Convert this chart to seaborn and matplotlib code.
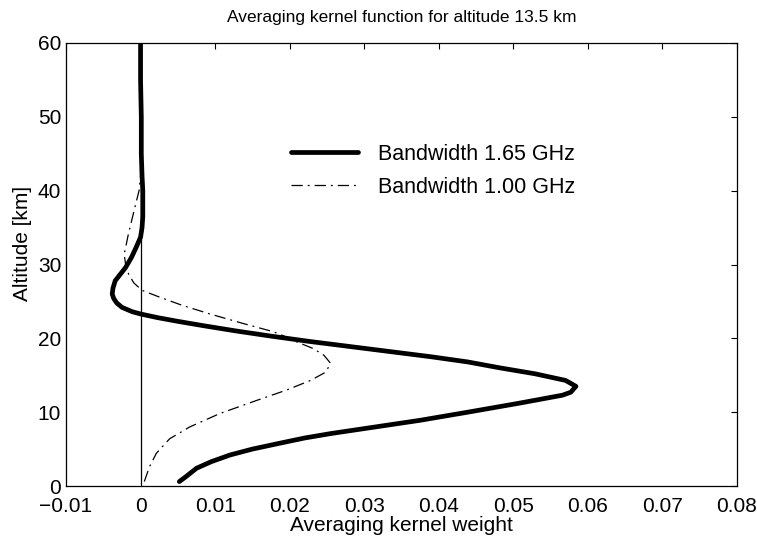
import numpy as np
import pandas as pd
import matplotlib
matplotlib.use("Agg")
import matplotlib.pyplot as plt
import seaborn as sns

# ---- data ----
alt_165 = [0.6, 1.2, 2.4, 3.3, 4.2, 5.0, 5.8, 6.5, 7.1, 8.0, 8.9, 10.0, 11.2, 12.3, 12.7,
           13.5, 14.3, 15.2, 16.0, 16.8, 17.5, 18.2, 18.9, 19.6, 20.3, 21.0, 21.7, 22.3,
           22.8, 23.3, 23.6, 24.2, 24.8, 25.4, 26.0, 26.8, 27.8, 28.7, 29.6, 31.0, 32.3,
           33.7, 35.0, 36.5, 38.0, 40.0, 42.0, 45.0, 50.0, 55.0, 60.0]
w_165 = [0.0052, 0.0060, 0.0075, 0.0095, 0.0120, 0.0150, 0.0187, 0.0220, 0.0255, 0.0315,
         0.0375, 0.0439, 0.0507, 0.0566, 0.0577, 0.0584, 0.0570, 0.0529, 0.0482, 0.0439,
         0.0390, 0.0335, 0.0280, 0.0225, 0.0175, 0.0128, 0.0085, 0.0050, 0.0023, 0.0000,
         -0.0011, -0.0025, -0.0032, -0.0036, -0.0038, -0.0037, -0.0034, -0.0027, -0.0020,
         -0.0012, -0.0006, 0.0000, 0.0002, 0.0003, 0.0003, 0.0003, 0.0002, 0.0001, 0.0001,
         0.0000, 0.0000]

alt_100 = [0.6, 2.6, 4.4, 6.4, 8.0, 9.8, 11.6, 13.0, 14.3, 15.4, 16.6, 17.7, 18.6, 19.5,
           20.2, 20.9, 22.0, 23.3, 24.5, 25.6, 26.5, 27.5, 28.7, 30.0, 31.4, 32.3, 33.8,
           35.5, 38.2, 40.0, 42.0, 45.0, 50.0, 55.0, 60.0]
w_100 = [0.0005, 0.0012, 0.0021, 0.0039, 0.0066, 0.0106, 0.0156, 0.0196, 0.0228, 0.0248,
         0.0255, 0.0246, 0.0232, 0.0210, 0.0195, 0.0178, 0.0138, 0.0093, 0.0055, 0.0025,
         0.0002, -0.0009, -0.0016, -0.0020, -0.0022, -0.0020, -0.0017, -0.0013, -0.00065,
         -0.0002, 0.0, 0.0, 0.0, 0.0, 0.0]

labels = ["Bandwidth 1.65 GHz", "Bandwidth 1.00 GHz"]
x_ticks = [-0.01, 0, 0.01, 0.02, 0.03, 0.04, 0.05, 0.06, 0.07, 0.08]
x_tick_labels = ["\u22120.01", "0", "0.01", "0.02", "0.03", "0.04", "0.05", "0.06", "0.07", "0.08"]
y_ticks = [0, 10, 20, 30, 40, 50, 60]

title = "Averaging kernel function for altitude 13.5 km"
xlabel = "Averaging kernel weight"
ylabel = "Altitude [km]"

# ---- plotting ----
sns.set_theme(style="white")
plt.rcParams["font.family"] = ["Liberation Sans", "DejaVu Sans"]
plt.rcParams["axes.edgecolor"] = "black"
plt.rcParams["axes.linewidth"] = 0.9
plt.rcParams["text.color"] = "black"
plt.rcParams["axes.labelcolor"] = "black"

fig = plt.figure(figsize=(7.57, 5.44), dpi=100)
left_px, right_px, top_px, bottom_px = 66, 737, 43, 486
ax = fig.add_axes([left_px / 757, 1 - bottom_px / 544,
                   (right_px - left_px) / 757, (bottom_px - top_px) / 544])

df165 = pd.DataFrame({"w": w_165, "alt": alt_165})
df100 = pd.DataFrame({"w": w_100, "alt": alt_100})

# zero reference line
ax.axvline(0, color="black", lw=0.9, zorder=1)

sns.lineplot(data=df165, x="w", y="alt", sort=False, estimator=None, ax=ax,
             color="black", lw=3.4, label=labels[0], zorder=3)
sns.lineplot(data=df100, x="w", y="alt", sort=False, estimator=None, ax=ax,
             color="black", lw=0.9, label=labels[1], zorder=2)
ax.lines[-1].set_dashes([9, 4, 1.5, 4])

ax.set_xlim(-0.01, 0.08)
ax.set_ylim(0, 60)
ax.set_xticks(x_ticks)
ax.set_xticklabels(x_tick_labels)
ax.set_yticks(y_ticks)
ax.tick_params(direction="in", length=4, width=0.8, top=True, right=True,
               labelsize=15, colors="black")
ax.tick_params(axis="x", pad=8)
ax.tick_params(axis="y", pad=3.5)
for s in ax.spines.values():
    s.set_visible(True)
    s.set_color("black")

ax.set_title(title, fontsize=12.5, pad=15, color="black")
ax.set_xlabel(xlabel, fontsize=15, labelpad=0, color="black")
ax.set_ylabel(ylabel, fontsize=15, color="black")
ax.yaxis.set_label_coords((32 - left_px) / (right_px - left_px),
                          (bottom_px - 243) / (bottom_px - top_px))

leg = ax.legend(loc="upper left", bbox_to_anchor=(0.335, 0.773), frameon=False,
                fontsize=15.5, handlelength=3.1, handletextpad=0.95,
                labelspacing=0.57, borderpad=0, borderaxespad=0)
for t in leg.get_texts():
    t.set_color("black")
leg.get_lines()[1].set_dashes([9, 4, 1.5, 4])

fig.savefig("out.png", dpi=100)
